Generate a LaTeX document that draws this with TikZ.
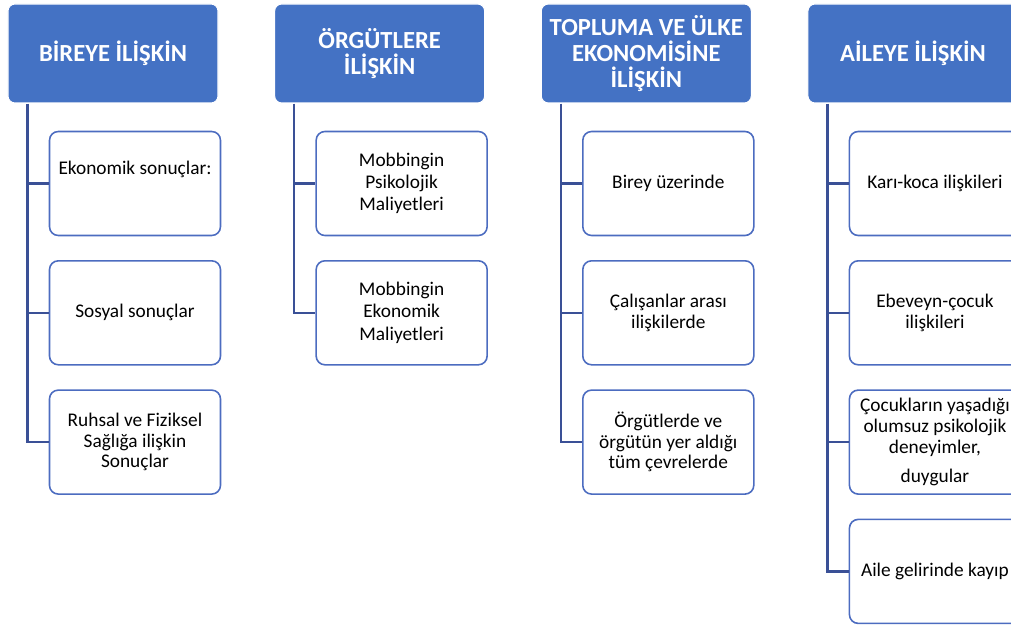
\documentclass[tikz,border=0pt]{standalone}
\usepackage{fontspec}
\setmainfont{Carlito}
\usetikzlibrary{calc}
\definecolor{hdrblue}{RGB}{68,114,196}
\definecolor{itmblue}{RGB}{76,108,192}
\definecolor{railblue}{RGB}{58,80,150}
\def\colw{5.333}
\def\dx{0.44}
\def\dy{2.6}
\def\rowh{2.586}

\begin{document}
\begin{tikzpicture}[
  hdr/.style  = {draw=white, line width=0.6pt, fill=hdrblue, rounded corners=4pt,
                 minimum width=4.2cm, minimum height=1.98cm, align=center,
                 text=white, font=\fontsize{14}{14.8}\selectfont\bfseries, inner sep=2pt},
  itm/.style  = {draw=itmblue, line width=0.9pt, fill=white, rounded corners=5pt,
                 minimum width=3.42cm, minimum height=2.08cm, align=center,
                 font=\fontsize{11}{11.7}\selectfont, inner sep=2pt},
  conn/.style = {draw=railblue, line width=1.3pt},
]
\useasboundingbox (0,0) rectangle (20.22,-12.5);
\clip (0,0) rectangle (20.22,-12.5);

% ---------- header boxes ----------
\foreach \i/\t in {1/{BİREYE İLİŞKİN}, 2/{ÖRGÜTLERE\\İLİŞKİN},
                   3/{TOPLUMA VE ÜLKE\\EKONOMİSİNE\\İLİŞKİN}, 4/{AİLEYE İLİŞKİN}}{
  \node[hdr] (hdr-\i) at ({2.26+(\i-1)*\colw},-1.07) {\t};
}

% ---------- item boxes per column ----------
\foreach \j/\t in {1/{Ekonomik sonuçlar:\\[6pt]\mbox{}}, 2/{Sosyal sonuçlar},
                   3/{Ruhsal ve Fiziksel\\Sağlığa ilişkin\\Sonuçlar}}{
  \node[itm] (itm-1-\j) at ($(hdr-1.center)+(\dx,{-\dy-(\j-1)*\rowh})$) {\t};
}
\foreach \j/\t in {1/{Mobbingin\\[1pt]Psikolojik\\[1pt]Maliyetleri}, 2/{Mobbingin\\[1pt]Ekonomik\\[1pt]Maliyetleri}}{
  \node[itm] (itm-2-\j) at ($(hdr-2.center)+(\dx,{-\dy-(\j-1)*\rowh})$) {\t};
}
\foreach \j/\t in {1/{Birey üzerinde}, 2/{Çalışanlar arası\\ilişkilerde},
                   3/{Örgütlerde ve\\örgütün yer aldığı\\tüm çevrelerde}}{
  \node[itm] (itm-3-\j) at ($(hdr-3.center)+(\dx,{-\dy-(\j-1)*\rowh})$) {\t};
}
\foreach \j/\t in {1/{Karı-koca ilişkileri}, 2/{Ebeveyn-çocuk\\ilişkileri},
                   3/{Çocukların yaşadığı\\olumsuz psikolojik\\{deneyimler,}\\[5pt]duygular},
                   4/{Aile gelirinde kayıp}}{
  \node[itm] (itm-4-\j) at ($(hdr-4.center)+(\dx,{-\dy-(\j-1)*\rowh})$) {\t};
}

% ---------- rails from header to items ----------
\foreach \i/\n in {1/3, 2/2, 3/3, 4/4}{
  \coordinate (rail-\i) at ($(hdr-\i.south west)+(0.4,0)$);
  \draw[conn] (rail-\i) |- (itm-\i-\n.west);
  \foreach \j in {1,...,\n}{
    \draw[conn] (rail-\i |- itm-\i-\j.west) -- (itm-\i-\j.west);
  }
}

\end{tikzpicture}
\end{document}
